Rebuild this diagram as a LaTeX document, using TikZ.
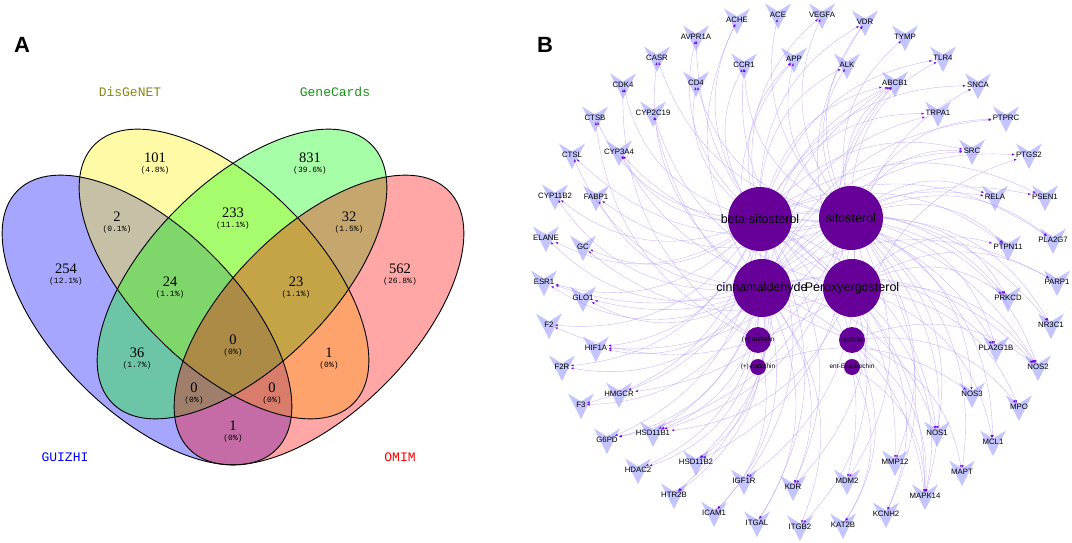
\documentclass[tikz,border=0pt]{standalone}
\usepackage{fontspec}
\usepackage{tikz}
\usetikzlibrary{arrows.meta}
\newfontfamily\arialfont{Liberation Sans}
\newfontfamily\vennserif{Liberation Serif}
\newfontfamily\vennmono{Liberation Mono}
\definecolor{setolive}{RGB}{135,135,20}
\definecolor{setgreen}{RGB}{20,150,20}
\definecolor{tgtfill}{RGB}{196,196,255}
\definecolor{cmpdfill}{RGB}{102,0,153}
\definecolor{linkcol}{RGB}{175,145,255}
\definecolor{tipcol}{RGB}{110,0,240}
\pgfdeclarelayer{vlayer}
\pgfdeclarelayer{elayer}
\pgfsetlayers{vlayer,elayer,main}
\tikzset{
  vennset/.style={fill opacity=0.35},
  vennline/.style={draw=black, line width=0.9pt},
  cnt/.style={font=\vennserif\fontsize{14.5}{14.5}\selectfont, inner sep=0pt},
  pct/.style={font=\vennmono\fontsize{8}{8}\selectfont, inner sep=0pt},
  setname/.style={font=\vennmono\fontsize{13}{13}\selectfont, inner sep=0pt},
  panel/.style={font=\arialfont\bfseries\fontsize{22}{22}\selectfont, inner sep=0pt},
  tgt/.style={font=\arialfont\fontsize{7.8}{7.8}\selectfont, inner sep=1pt},
  cmpd/.style={circle, fill=cmpdfill, inner sep=0pt},
  cmpdlbl/.style={font=\arialfont\fontsize{12.5}{12.5}\selectfont, inner sep=0pt},
  smalllbl/.style={font=\arialfont\fontsize{6.5}{6.5}\selectfont, inner sep=0pt},
  link/.style={draw=linkcol, draw opacity=0.65, line width=0.4pt, -{Latex[length=3pt,width=2.4pt,color=tipcol]}},
  vshape/.pic={\fill[tgtfill] (-13,-11.5) -- (0,-3.5) -- (13,-11.5) -- (0,14) -- cycle;}
}

\begin{document}
\begin{tikzpicture}[x=1pt,y=-1pt]
\useasboundingbox (0,0) rectangle (1072,543);

% Panel letters
\node[panel] (pA) at (22,45) {A};
\node[panel] (pB) at (545,45) {B};

% Venn sets (blue, yellow, green, red)
\fill[vennset, blue, rotate around={-45:(147,320)}] (147,320) ellipse [x radius=183, y radius=92];
\fill[vennset, yellow, rotate around={-45:(224,274)}] (224,274) ellipse [x radius=183, y radius=92];
\fill[vennset, green, rotate around={45:(242,274)}] (242,274) ellipse [x radius=183, y radius=92];
\fill[vennset, red, rotate around={45:(319,320)}] (319,320) ellipse [x radius=183, y radius=92];
\draw[vennline, rotate around={-45:(147,320)}] (147,320) ellipse [x radius=183, y radius=92];
\draw[vennline, rotate around={-45:(224,274)}] (224,274) ellipse [x radius=183, y radius=92];
\draw[vennline, rotate around={45:(242,274)}] (242,274) ellipse [x radius=183, y radius=92];
\draw[vennline, rotate around={45:(319,320)}] (319,320) ellipse [x radius=183, y radius=92];

% Set names
\node[setname, text=setolive] (sDis) at (130,92) {DisGeNET};
\node[setname, text=setgreen] (sGene) at (335,92) {GeneCards};
\node[setname, text=blue] (sGui) at (65,457) {GUIZHI};
\node[setname, text=red] (sOmim) at (400,457) {OMIM};

% Region counts
\foreach \x/\y/\n/\p [count=\i] in {155/158/101/4.8, 310/158/831/39.6, 66/269/254/12.1,
    400/269/562/26.8, 117/217/2/0.1, 233/213/233/11.1, 349/217/32/1.5, 170/282/24/1.1,
    296/282/23/1.1, 137/353/36/1.7, 233/340/0/0, 329/353/1/0, 194/388/0/0, 272/388/0/0,
    233/426/1/0}{
  \node[cnt] (cnt\i) at (\x,\y) {\n};
  \node[pct] (pct\i) at (\x,\y+12) {(\p\%)};
}

% Targets
\foreach \nm/\x/\y in {ACHE/737/20, ACE/778/15, VEGFA/822/15, VDR/865/22, TYMP/905/37,
    TLR4/943/58, SNCA/978/85, PTPRC/1006/118, PTGS2/1029/155, PSEN1/1045/197,
    PLA2G7/1053/240, PARP1/1057/282, NR3C1/1051/325, NOS2/1038/367, MPO/1019/407,
    MCL1/993/442, MAPT/962/472, MAPK14/925/496, KCNH2/886/514, KAT2B/843/525,
    ITGB2/800/527, ITGAL/757/523, ICAM1/714/513, HTR2B/674/495, HDAC2/638/470,
    G6PD/607/440, F3/581/405, F2R/562/367, F2/549/325, ESR1/544/282, ELANE/546/238,
    CYP11B2/555/196, CTSL/572/155, CTSB/595/118, CDK4/623/85, CASR/657/58, AVPR1A/696/37,
    CCR1/744/65, APP/794/59, ALK/847/65, ABCB1/895/83, TRPA1/938/113, SRC/972/151,
    RELA/995/197, PTPN11/1008/247, PRKCD/1008/298, PLA2G1B/996/348, NOS3/972/394,
    NOS1/937/433, MMP12/895/462, MDM2/847/481, KDR/793/487, IGF1R/744/481,
    HSD11B2/696/462, HSD11B1/653/433, HMGCR/619/394, HIF1A/596/348, GLO1/583/298,
    GC/583/247, FABP1/596/197, CYP3A4/619/152, CYP2C19/653/113, CD4/696/83}{
  \begin{pgfonlayer}{vlayer}
    \pic at (\x,\y) {vshape};
  \end{pgfonlayer}
  \node[tgt] (\nm) at (\x,\y) {\nm};
}

% Compounds
\node[cmpd, minimum size=64pt] (bs) at (760,219) {};
\node[cmpd, minimum size=64pt] (ss) at (851,218) {};
\node[cmpd, minimum size=58pt] (ca) at (762,288) {};
\node[cmpd, minimum size=58pt] (pe) at (852,288) {};
\node[cmpd, minimum size=26pt] (tx1) at (758,340) {};
\node[cmpd, minimum size=26pt] (tx2) at (852,340) {};
\node[cmpd, minimum size=16pt] (ct1) at (758,367) {};
\node[cmpd, minimum size=16pt] (ct2) at (852,367) {};
\node[cmpdlbl] at (bs) {beta-sitosterol};
\node[cmpdlbl] at (ss) {sitosterol};
\node[cmpdlbl] at (ca) {cinnamaldehyde};
\node[cmpdlbl] at (pe) {Peroxyergosterol};
\node[smalllbl] at (tx1) {(+)-taxifolin};
\node[smalllbl] at (tx2) {taxifolin};
\node[smalllbl] at (ct1) {(+)-catechin};
\node[smalllbl] at (ct2) {ent-Epicatechin};

% Compound -> target links
\begin{pgfonlayer}{elayer}
\foreach \t/\s in {ACHE/bs, ACHE/ca, ACE/ss, VEGFA/bs, VEGFA/ss, VDR/bs, VDR/ss, VDR/pe,
    TYMP/ss, TLR4/ss, TLR4/bs, SNCA/pe, SNCA/bs, PTPRC/ss, PTPRC/ca, PTGS2/ca, PTGS2/tx2,
    PSEN1/bs, PSEN1/ca, RELA/ss, RELA/ca, PLA2G7/bs, PLA2G7/ss, PARP1/pe, PARP1/ca,
    NR3C1/bs, NR3C1/ss, NOS2/bs, NOS2/ss, NOS2/ca, NOS2/pe, NOS2/tx2, MPO/tx2, MPO/pe,
    MCL1/pe, MCL1/ss, MAPT/ss, MAPT/tx2, MAPK14/bs, MAPK14/ss, MAPK14/ca, MAPK14/pe,
    MAPK14/tx2, MAPK14/ct2, KCNH2/ss, KCNH2/pe, KAT2B/ct2, KAT2B/tx2, ITGB2/ca, ITGB2/pe,
    ITGAL/bs, ITGAL/ca, ICAM1/ca, ICAM1/tx1, HTR2B/bs, HTR2B/ca, HDAC2/ca, HDAC2/tx1,
    G6PD/bs, G6PD/ss, G6PD/ca, F3/ca, F3/bs, F2R/bs, F2R/ca, F2/pe, F2/bs, ESR1/bs, ESR1/ss,
    ESR1/ca, ELANE/ca, ELANE/bs, CYP11B2/bs, CYP11B2/ca, CTSL/ss, CTSL/ca, CTSB/bs,
    CTSB/tx1, CDK4/tx1, CDK4/bs, CASR/ss, CASR/ca, AVPR1A/pe, AVPR1A/bs,
    CCR1/bs, CCR1/ss, CCR1/pe, APP/bs, APP/ss, APP/ca, ALK/bs, ALK/ss, ABCB1/bs, ABCB1/ss,
    ABCB1/ca, ABCB1/pe, ABCB1/tx1, ABCB1/tx2, TRPA1/ca, TRPA1/bs, SRC/bs, SRC/ss, SRC/ca,
    PTPN11/bs, PTPN11/ss, PTPN11/pe, PRKCD/bs, PRKCD/ss, PRKCD/pe, PLA2G1B/bs, PLA2G1B/ss,
    PLA2G1B/ca, NOS3/ct1, NOS3/ss, NOS1/bs, NOS1/ss, NOS1/ca, MMP12/bs, MMP12/ss,
    MDM2/bs, MDM2/ss, KDR/bs, KDR/ss, KDR/ca, IGF1R/bs, IGF1R/ss, HSD11B2/bs, HSD11B2/ss,
    HSD11B2/ca, HSD11B1/bs, HSD11B1/ss, HSD11B1/ca, HSD11B1/pe, HMGCR/ss, HMGCR/bs,
    HIF1A/bs, HIF1A/ss, HIF1A/ca, GLO1/ca, GLO1/ss, GC/bs, GC/pe, FABP1/ca, FABP1/ss,
    CYP3A4/bs, CYP3A4/ss, CYP3A4/pe, CYP2C19/pe, CYP2C19/tx2, CD4/bs, CD4/ss}
  \draw[link] (\s) to[bend left=28] (\t);
\end{pgfonlayer}

\end{tikzpicture}
\end{document}
